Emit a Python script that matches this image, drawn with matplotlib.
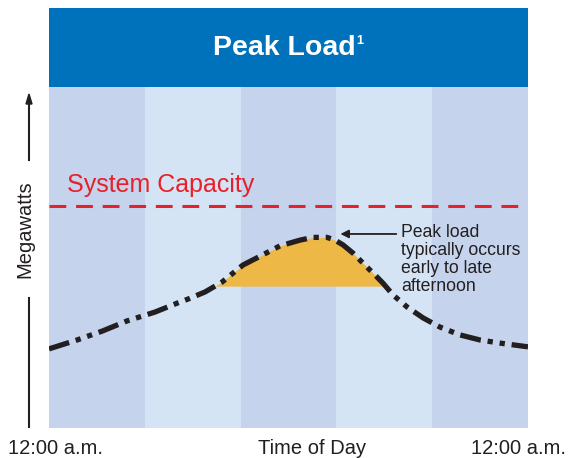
import matplotlib.pyplot as plt
import numpy as np

# hours of the day and load (arbitrary megawatt units)
hours = [0, 1.4, 2.66, 3.91, 5.31, 6.46, 6.96, 7.82, 8.67, 9.72, 10.42, 11.57, 12.58,
         13.23, 13.93, 14.33, 14.73, 15.23, 15.93, 16.43, 16.73, 17.24, 17.94, 18.74,
         19.59, 20.59, 21.6, 22.6, 24]
load = [23.2, 25.8, 28.4, 31.4, 34.0, 36.7, 37.8, 39.9, 42.8, 47.8, 49.9, 53.4, 55.1,
        55.9, 55.9, 55.1, 53.7, 51.3, 47.2, 44.3, 42.5, 39.0, 35.5, 32.3,
        29.6, 27.3, 25.8, 24.9, 23.8]
capacity = 65.1
peak_level = 41.6

title = 'Peak Load'
x_labels = ['12:00 a.m.', 'Time of Day', '12:00 a.m.']
note = 'Peak load\ntypically occurs\nearly to late\nafternoon'

W, H = 574, 458
fig = plt.figure(figsize=(W / 100, H / 100), dpi=100)
plt.rcParams['font.family'] = ['Liberation Sans', 'DejaVu Sans']


def fx(px):
    return px / W


def fy(py):
    return 1 - py / H


# header
hdr = fig.add_axes([fx(49), fy(87), fx(528) - fx(49), fy(8) - fy(87)])
hdr.set_facecolor('#0071bb')
hdr.set_xticks([])
hdr.set_yticks([])
for s in hdr.spines.values():
    s.set_visible(False)
fig.text(fx(284), fy(48), title, color='white', fontsize=20.5, fontweight='bold',
         ha='center', va='center')
fig.text(fx(356), fy(35), '1', color='white', fontsize=9, fontweight='bold',
         ha='left', va='top')

ax = fig.add_axes([fx(49), fy(428), fx(528) - fx(49), fy(87) - fy(428)])
ax.set_xlim(0, 24)
ax.set_ylim(0, 100)
edges = np.linspace(0, 24, 6)
for i in range(5):
    ax.axvspan(edges[i], edges[i + 1], color='#c5d3ec' if i % 2 == 0 else '#d4e4f4', lw=0, zorder=0)

h = np.array(hours)
l = np.array(load)
ax.fill_between(h, l, peak_level, where=l >= peak_level, interpolate=True,
                color='#edb845', lw=0, zorder=1)
ax.plot(h, l, color='#231f20', lw=3.8, ls=(0, (4, 1.3, 1, 1.3, 1, 1.3)),
        dash_capstyle='butt', solid_joinstyle='round', zorder=2)

ax.axhline(capacity, color='#e8202a', lw=2.2, ls=(0, (5.5, 3.2)), zorder=2)
ax.text(0.9, capacity + 2.5, 'System Capacity', color='#e8202a', fontsize=18,
        ha='left', va='bottom')

ax.annotate('', xy=(14.6, 56.9), xytext=(17.4, 56.9),
            arrowprops=dict(arrowstyle='-|>', color='#231f20', lw=1.3,
                            mutation_scale=12, shrinkA=0, shrinkB=0))
ax.text(17.65, 59.8, note, fontsize=12.7, color='#231f20', ha='left', va='top',
        linespacing=1.08)

ax.set_xticks([])
ax.set_yticks([])
for s in ax.spines.values():
    s.set_visible(False)

# y axis label with arrow
fig.text(fx(25), fy(229), 'Megawatts', rotation=90, fontsize=14.5, color='#231f20',
         ha='center', va='center')
fig.add_artist(plt.Line2D([fx(29), fx(29)], [fy(298), fy(427)], color='#231f20',
                          lw=1.5, transform=fig.transFigure))
fig.add_artist(plt.Line2D([fx(29), fx(29)], [fy(160), fy(102)], color='#231f20',
                          lw=1.5, transform=fig.transFigure))
fig.add_artist(plt.Polygon([[fx(26), fy(104)], [fx(32), fy(104)], [fx(29), fy(94)]],
                           closed=True, color='#231f20', transform=fig.transFigure))

# x labels
fig.text(fx(8), fy(448), x_labels[0], fontsize=14.5, ha='left', va='center', color='#231f20')
fig.text(fx(312), fy(448), x_labels[1], fontsize=14.5, ha='center', va='center', color='#231f20')
fig.text(fx(566), fy(448), x_labels[2], fontsize=14.5, ha='right', va='center', color='#231f20')

fig.savefig('out.png', dpi=100)
